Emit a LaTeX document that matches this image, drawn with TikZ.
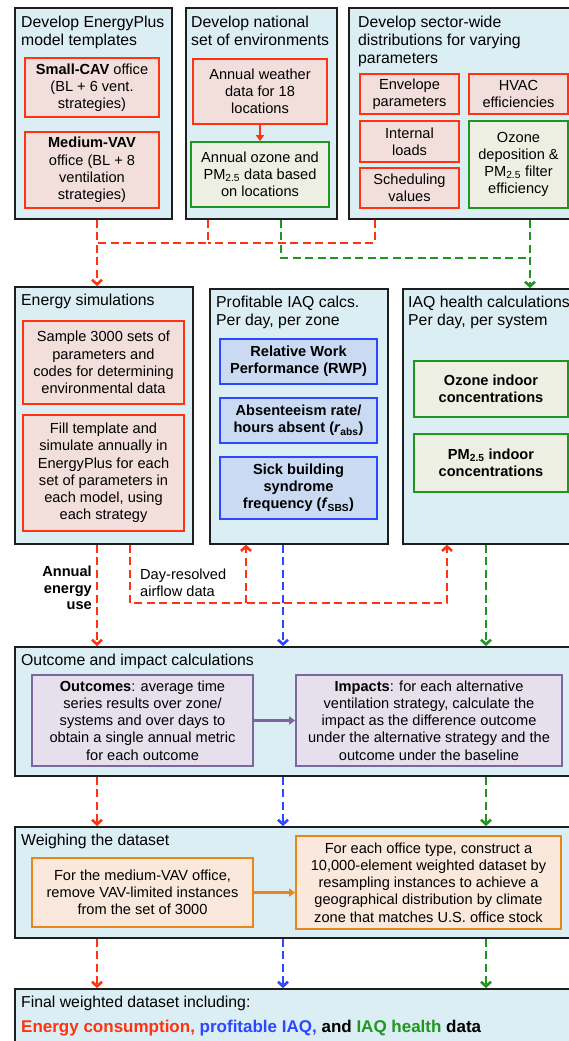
\documentclass[tikz,border=0pt]{standalone}
\usepackage{fontspec}
\setmainfont{Liberation Sans}
\usetikzlibrary{arrows.meta}

\definecolor{frame}{HTML}{1E1E1E}
\definecolor{boxbg}{HTML}{DBEEF3}
\definecolor{cred}{HTML}{FF3311}
\definecolor{redbg}{HTML}{F2DFDC}
\definecolor{cgreen}{HTML}{1F961F}
\definecolor{greenbg}{HTML}{EDEFE2}
\definecolor{cblue}{HTML}{2D46FF}
\definecolor{bluebg}{HTML}{C9DAF2}
\definecolor{cpurple}{HTML}{7D659F}
\definecolor{purplebg}{HTML}{E6E0EC}
\definecolor{corange}{HTML}{E8861A}
\definecolor{orangebg}{HTML}{FBE8DC}

\begin{document}
\begin{tikzpicture}[x=1pt, y=-1pt,
    every node/.style={inner sep=0pt, font=\fontsize{14.6}{17.2}\selectfont},
    outer/.style={draw=frame, line width=1.7pt, fill=boxbg, anchor=north west},
    ttl/.style={anchor=north west, align=left, font=\fontsize{15.8}{18.2}\selectfont},
    inbox/.style={line width=1.7pt, align=center},
    redbox/.style={inbox, draw=cred, fill=redbg},
    greenbox/.style={inbox, draw=cgreen, fill=greenbg},
    bluebox/.style={inbox, draw=cblue, fill=bluebg, font=\fontsize{14.6}{17.2}\selectfont\bfseries},
    purplebox/.style={inbox, draw=cpurple, fill=purplebg},
    orangebox/.style={inbox, draw=corange, fill=orangebg},
    flow/.style={line width=2.6pt, dash pattern=on 8pt off 4.5pt},
    barb/.style={-{Straight Barb[length=4.5pt,width=10pt]}},
    solidarr/.style={line width=2.4pt, -{Triangle[length=6pt,width=8pt]}},
]
    \useasboundingbox (0,0) rectangle (569,1041);
    \clip (0,0) rectangle (569,1041);

    % 第一行：模板、环境、参数分布
    \begin{scope}
        \node[outer, minimum width=157pt, minimum height=211pt] (tmpl) at (14,7) {};
        \node[outer, minimum width=151pt, minimum height=211pt] (envs) at (185,7) {};
        \node[outer, minimum width=230pt, minimum height=211pt] (dist) at (348,7) {};

        \node[ttl] (tmplT) at (21,15.8) {Develop EnergyPlus\\model templates};
        \node[ttl] (envsT) at (191,15.8) {Develop national\\set of environments};
        \node[ttl] (distT) at (358,15.8) {Develop sector-wide\\distributions for varying\\parameters};

        \node[redbox, minimum width=134pt, minimum height=59pt] (smallcav) at (92,87.5)
            {\textbf{Small-CAV} office\\(BL + 6 vent.\\strategies)};
        \node[redbox, minimum width=134pt, minimum height=76pt] (medvav) at (92,170)
            {\textbf{Medium-VAV}\\office (BL + 8\\ventilation\\strategies)};

        \node[redbox, minimum width=134pt, minimum height=65pt] (weather) at (260,91.5)
            {Annual weather\\data for 18\\locations};
        \node[greenbox, minimum width=138pt, minimum height=65pt] (ozpm) at (260,174.5)
            {Annual ozone and\\PM\textsubscript{2.5} data based\\on locations};
        \draw[cred, solidarr] (weather) -- (ozpm);

        \node[redbox, minimum width=99pt, minimum height=40pt] (envel) at (409.5,94) {Envelope\\parameters};
        \node[redbox, minimum width=99pt, minimum height=40pt] (hvac) at (518.5,94) {HVAC\\efficiencies};
        \node[redbox, minimum width=99pt, minimum height=41pt] (intload) at (409.5,141.5) {Internal\\loads};
        \node[redbox, minimum width=99pt, minimum height=40pt] (sched) at (409.5,188) {Scheduling\\values};
        \node[greenbox, minimum width=99pt, minimum height=87pt] (ozdep) at (518.5,164.5)
            {Ozone\\deposition \&\\PM\textsubscript{2.5} filter\\efficiency};
    \end{scope}

    % 各列的位置
    \coordinate (xr) at (97,0);
    \coordinate (xb) at (283,0);
    \coordinate (xg) at (486,0);
    \coordinate (xr2) at (208,0);
    \coordinate (xr3) at (375,0);
    \coordinate (xg2) at (281,0);
    \coordinate (xg3) at (530,0);
    \coordinate (xa) at (130,0);
    \coordinate (xp) at (246,0);
    \coordinate (xh) at (447,0);
    \coordinate (ybus) at (0,243);
    \coordinate (ygbus) at (0,258);
    \coordinate (yair) at (0,603);

    % 第二行：能耗模拟与IAQ计算
    \begin{scope}
        \node[outer, minimum width=178pt, minimum height=257pt] (esim) at (14,286) {};
        \node[outer, minimum width=178pt, minimum height=255pt] (piaq) at (209,288) {};
        \node[outer, minimum width=175pt, minimum height=255pt] (iaqh) at (402,288) {};

        \node[ttl] (esimT) at (21,293.8) {Energy simulations};
        \node[ttl] (piaqT) at (216,295.8) {Profitable IAQ calcs.\\Per day, per zone};
        \node[ttl] (iaqhT) at (408,295.8) {IAQ health calculations\\Per day, per system};

        \node[redbox, minimum width=161pt, minimum height=83pt] (sample) at (103.5,362.5)
            {Sample 3000 sets of\\parameters and\\codes for determining\\environmental data};
        \node[redbox, minimum width=161pt, minimum height=116pt] (filltpl) at (103.5,473)
            {Fill template and\\simulate annually in\\EnergyPlus for each\\set of parameters in\\each model, using\\each strategy};

        \node[bluebox, minimum width=157pt, minimum height=45pt] (rwp) at (298.5,361.5)
            {Relative Work\\Performance (RWP)};
        \node[bluebox, minimum width=157pt, minimum height=45pt] (absent) at (298.5,420.5)
            {Absenteeism rate/\\hours absent (\textit{r}\textsubscript{abs})};
        \node[bluebox, minimum width=157pt, minimum height=62pt] (sbs) at (298.5,488)
            {Sick building\\syndrome\\frequency (\textit{f}\textsubscript{SBS})};

        \node[greenbox, font=\fontsize{14.6}{17.2}\selectfont\bfseries, minimum width=154pt, minimum height=56pt] (ozin) at (491,389)
            {Ozone indoor\\concentrations};
        \node[greenbox, font=\fontsize{14.6}{17.2}\selectfont\bfseries, minimum width=154pt, minimum height=58pt] (pmin) at (491,463)
            {PM\textsubscript{2.5} indoor\\concentrations};
    \end{scope}

    % 上方虚线
    \draw[flow, draw=cred, barb] (tmpl.south -| xr) -- (esim.north -| xr);
    \draw[flow, draw=cred] (envs.south -| xr2) -- (xr2 |- ybus) -- (xr |- ybus);
    \draw[flow, draw=cred] (dist.south -| xr3) -- (xr3 |- ybus) -- (xr2 |- ybus);
    \draw[flow, draw=cgreen] (envs.south -| xg2) -- (xg2 |- ygbus) -- (xg3 |- ygbus);
    \draw[flow, draw=cgreen, barb] (dist.south -| xg3) -- (iaqh.north -| xg3);

    % 第三行：结果与影响
    \node[outer, minimum width=565pt, minimum height=129pt] (calc) at (14,646) {};
    \node[ttl] (calcT) at (21,653.8) {Outcome and impact calculations};
    \node[purplebox, minimum width=221pt, minimum height=91pt] (outcomes) at (142.5,720.5)
        {\textbf{Outcomes}: average time\\series results over zone/\\systems and over days to\\obtain a single annual metric\\for each outcome};
    \node[purplebox, minimum width=266pt, minimum height=91pt] (impacts) at (429,720.5)
        {\textbf{Impacts}: for each alternative\\ventilation strategy, calculate the\\impact as the difference outcome\\under the alternative strategy and the\\outcome under the baseline};
    \draw[cpurple, solidarr] (outcomes) -- (impacts);

    % 中间虚线
    \draw[flow, draw=cred, barb] (esim.south -| xr) -- (calc.north -| xr);
    \node[anchor=north east, align=right, font=\fontsize{14.6}{16.8}\selectfont\bfseries] (aeu) at (92,565.5)
        {Annual\\energy\\use};
    \draw[flow, draw=cred, barb] (esim.south -| xa) -- (xa |- yair) -| (iaqh.south -| xh);
    \draw[flow, draw=cred, barb] (xp |- yair) -- (piaq.south -| xp);
    \node[anchor=north west, align=left] (airflow) at (140,568.5) {Day-resolved\\airflow data};
    \draw[flow, draw=cblue, barb] (piaq.south -| xb) -- (calc.north -| xb);
    \draw[flow, draw=cgreen, barb] (iaqh.south -| xg) -- (calc.north -| xg);

    % 第四行：加权
    \node[outer, minimum width=565pt, minimum height=111pt] (weigh) at (14,826) {};
    \node[ttl] (weighT) at (21,833.8) {Weighing the dataset};
    \node[orangebox, minimum width=221pt, minimum height=69pt] (vavrm) at (142.5,892.5)
        {For the medium-VAV office,\\remove VAV-limited instances\\from the set of 3000};
    \node[orangebox, minimum width=265pt, minimum height=93pt] (resamp) at (428.5,882.5)
        {For each office type, construct a\\10,000-element weighted dataset by\\resampling instances to achieve a\\geographical distribution by climate\\zone that matches U.S. office stock};
    \draw[corange, solidarr] (vavrm.east) -- (vavrm.east -| resamp.west);

    \draw[flow, draw=cred, barb] (calc.south -| xr) -- (weigh.north -| xr);
    \draw[flow, draw=cblue, barb] (calc.south -| xb) -- (weigh.north -| xb);
    \draw[flow, draw=cgreen, barb] (calc.south -| xg) -- (weigh.north -| xg);

    % 最终数据集
    \node[outer, minimum width=565pt, minimum height=80pt] (final) at (14,988) {};
    \node[ttl] (finalT) at (21,995.8) {Final weighted dataset including:};
    \node[anchor=base west, font=\fontsize{17}{20}\selectfont\bfseries] (finalD) at (21,1032)
        {\textcolor{cred}{Energy consumption,} \textcolor{cblue}{profitable IAQ,} and \textcolor{cgreen}{IAQ health} data};

    \draw[flow, draw=cred, barb] (weigh.south -| xr) -- (final.north -| xr);
    \draw[flow, draw=cblue, barb] (weigh.south -| xb) -- (final.north -| xb);
    \draw[flow, draw=cgreen, barb] (weigh.south -| xg) -- (final.north -| xg);
\end{tikzpicture}
\end{document}
